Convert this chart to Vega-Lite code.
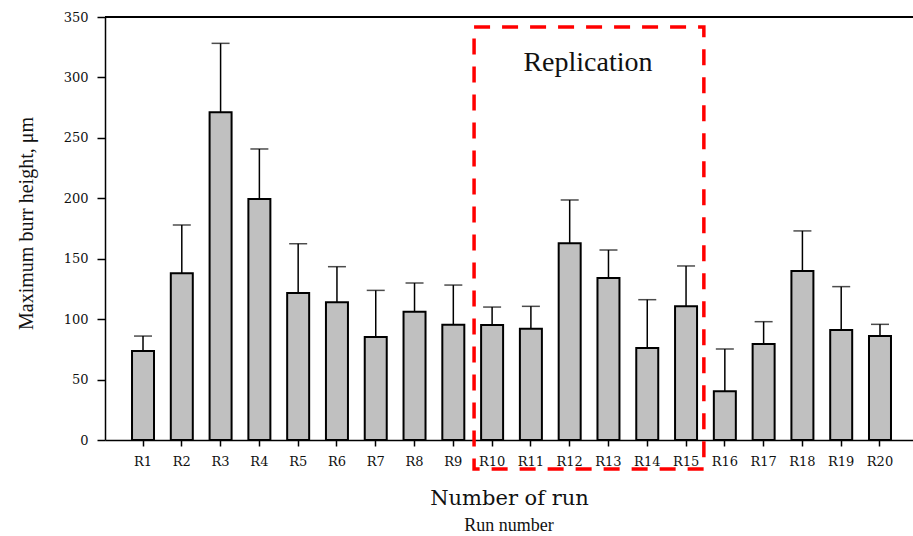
{
  "$schema": "https://vega.github.io/schema/vega-lite/v6.json",
  "width": 808,
  "height": 423,
  "autosize": {"type": "none"},
  "padding": {"left": 105, "top": 17, "right": 0, "bottom": 96},
  "config": {
    "view": {"stroke": null},
    "axis": {"domainColor": "#000000", "domainWidth": 1.5, "tickColor": "#000000", "tickWidth": 1.5, "labelColor": "#111111", "titleColor": "#111111", "grid": false}
  },
  "title": {"text": "Run number", "orient": "bottom", "anchor": "middle", "font": "Liberation Serif", "fontSize": 18, "fontWeight": "normal", "color": "#111111", "offset": 9},
  "datasets": {
    "runs": [
      {"run": "R1", "height": 73.6, "upper": 86.0},
      {"run": "R2", "height": 137.9, "upper": 177.9},
      {"run": "R3", "height": 271.1, "upper": 328.2},
      {"run": "R4", "height": 199.4, "upper": 240.8},
      {"run": "R5", "height": 121.6, "upper": 162.4},
      {"run": "R6", "height": 113.9, "upper": 143.4},
      {"run": "R7", "height": 85.2, "upper": 123.8},
      {"run": "R8", "height": 106.2, "upper": 129.9},
      {"run": "R9", "height": 95.4, "upper": 128.2},
      {"run": "R10", "height": 95.2, "upper": 110.0},
      {"run": "R11", "height": 92.1, "upper": 110.6},
      {"run": "R12", "height": 162.7, "upper": 198.6},
      {"run": "R13", "height": 134.0, "upper": 157.2},
      {"run": "R14", "height": 76.1, "upper": 116.1},
      {"run": "R15", "height": 110.6, "upper": 144.0},
      {"run": "R16", "height": 40.3, "upper": 75.3},
      {"run": "R17", "height": 79.4, "upper": 97.9},
      {"run": "R18", "height": 139.8, "upper": 173.0},
      {"run": "R19", "height": 91.0, "upper": 126.9},
      {"run": "R20", "height": 86.0, "upper": 95.7}
    ],
    "note": [
      {"label": "Replication", "first": "R10", "last": "R15", "center": "R12"}
    ]
  },
  "layer": [
    {
      "data": {"name": "runs"},
      "mark": {"type": "rule", "color": "#000000", "strokeWidth": 1.5},
      "encoding": {
        "x": {
          "field": "run", "type": "nominal",
          "scale": {"domain": ["R1","R2","R3","R4","R5","R6","R7","R8","R9","R10","R11","R12","R13","R14","R15","R16","R17","R18","R19","R20"], "paddingInner": 0.433, "paddingOuter": 0.632, "align": 0.551},
          "axis": {
            "title": "Number of run", "titleFont": "DejaVu Serif", "titleFontSize": 21, "titleFontWeight": "normal", "titlePadding": 19,
            "labelAngle": 0, "labelFont": "DejaVu Serif", "labelFontSize": 13, "labelPadding": 9, "tickSize": 6
          }
        },
        "y": {
          "field": "height", "type": "quantitative",
          "scale": {"domain": [0, 350], "nice": false, "zero": true},
          "axis": {
            "values": [0, 50, 100, 150, 200, 250, 300, 350],
            "title": "Maximum burr height, μm", "titleFont": "Liberation Serif", "titleFontSize": 20, "titleFontWeight": "normal",
            "titleX": -79, "titleY": 206, "titleBaseline": "middle",
            "labelFont": "DejaVu Serif", "labelFontSize": 13, "labelPadding": 9, "tickSize": 8
          }
        },
        "y2": {"field": "upper"}
      }
    },
    {
      "data": {"name": "runs"},
      "mark": {"type": "tick", "color": "#000000", "thickness": 1.5, "size": 18},
      "encoding": {
        "x": {"field": "run", "type": "nominal"},
        "y": {"field": "upper", "type": "quantitative"}
      }
    },
    {
      "data": {"name": "runs"},
      "mark": {"type": "bar", "fill": "#c0c0c0", "stroke": "#000000", "strokeWidth": 2},
      "encoding": {
        "x": {"field": "run", "type": "nominal"},
        "y": {"field": "height", "type": "quantitative"}
      }
    },
    {
      "data": {"name": "runs"},
      "mark": {"type": "rule", "color": "#000000", "strokeWidth": 1.5},
      "encoding": {
        "y": {"datum": 350}
      }
    },
    {
      "data": {"name": "note"},
      "mark": {"type": "rect", "fill": null, "fillOpacity": 0, "stroke": "#ff0000", "strokeWidth": 3.5, "strokeDash": [16, 12], "clip": false},
      "encoding": {
        "x": {"field": "first", "type": "nominal", "bandPosition": -0.32},
        "x2": {"field": "last", "bandPosition": 1.31},
        "y": {"datum": 341.7},
        "y2": {"datum": -24}
      }
    },
    {
      "data": {"name": "note"},
      "mark": {"type": "text", "font": "Liberation Serif", "fontSize": 28, "color": "#111111", "baseline": "alphabetic", "align": "center"},
      "encoding": {
        "x": {"field": "center", "type": "nominal", "bandPosition": 1.33},
        "y": {"datum": 305},
        "text": {"field": "label"}
      }
    }
  ]
}
